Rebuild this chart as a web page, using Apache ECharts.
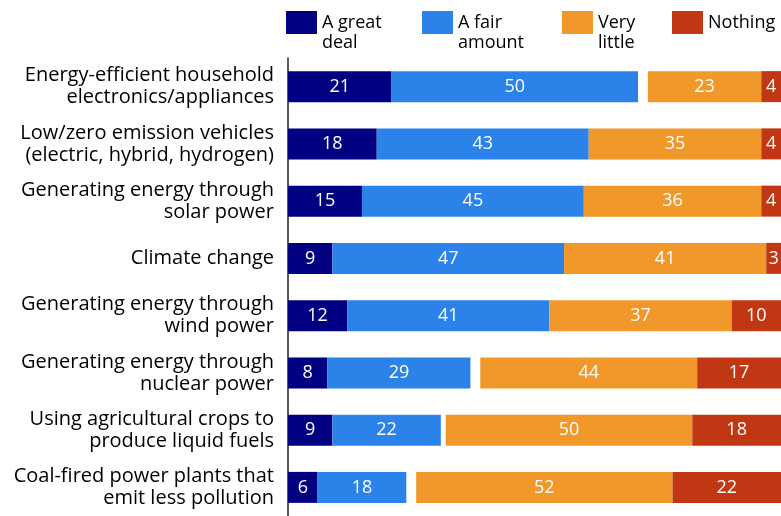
<!DOCTYPE html>
<html>
<head>
<meta charset="utf-8">
<script src="https://cdn.jsdelivr.net/npm/echarts@6/dist/echarts.min.js"></script>
<style>
  html, body { margin: 0; padding: 0; background: #fff; }
  #chart { width: 781px; height: 516px; }
</style>
</head>
<body>
<div id="chart"></div>
<script>
// Topics, top to bottom
const categories = [
  'Energy-efficient household\nelectronics/appliances',
  'Low/zero emission vehicles\n(electric, hybrid, hydrogen)',
  'Generating energy through\nsolar power',
  'Climate change',
  'Generating energy through\nwind power',
  'Generating energy through\nnuclear power',
  'Using agricultural crops to\nproduce liquid fuels',
  'Coal-fired power plants that\nemit less pollution'
];

// Share of respondents (%) for each answer
const greatDeal  = [21, 18, 15, 9, 12, 8, 9, 6];
const fairAmount = [50, 43, 45, 47, 41, 29, 22, 18];
const veryLittle = [23, 35, 36, 41, 37, 44, 50, 52];
const nothing    = [4, 4, 4, 3, 10, 17, 18, 22];

const seriesNames = ['A great deal', 'A fair amount', 'Very little', 'Nothing'];
// Legend captions; the leading blank line drops two-line captions so their
// first line sits level with the top half of the swatch.
const legendLines = ['\nA great\ndeal', '\nA fair\namount', '\nVery\nlittle', 'Nothing'];
const colors = ['#000080', '#2b83ea', '#f0992a', '#c13713'];

// Unanswered remainder sits between the two sides, so the "little/nothing"
// side stays flush with the right end of the scale.
const remainder = greatDeal.map((v, i) => 100 - v - fairAmount[i] - veryLittle[i] - nothing[i]);

const fontFamily = '"Open Sans", "Noto Sans", sans-serif';

const chart = echarts.init(document.getElementById('chart'), null, { renderer: 'canvas' });

function barSeries(name, data, color) {
  return {
    name: name,
    type: 'bar',
    stack: 'total',
    data: data,
    barWidth: 31,
    itemStyle: { color: color },
    label: {
      show: true,
      position: 'inside',
      color: '#fff',
      fontFamily: fontFamily,
      fontSize: 18
    },
    emphasis: { disabled: true }
  };
}

const legendLeft = [286, 422, 562, 672];
const legendTop = [-7.5, -7.5, -7.5, 11];

chart.setOption({
  animation: false,
  legend: seriesNames.map((name, i) => ({
    left: legendLeft[i],
    top: legendTop[i],
    padding: 0,
    icon: 'rect',
    itemWidth: 31,
    itemHeight: 23,
    selectedMode: false,
    data: [name],
    formatter: () => legendLines[i],
    textStyle: {
      color: '#000',
      fontFamily: fontFamily,
      fontSize: 18,
      lineHeight: 20
    }
  })),
  grid: { left: 288, top: 58, width: 494, height: 461, containLabel: false },
  xAxis: {
    type: 'value',
    min: 0,
    max: 100,
    show: false
  },
  yAxis: {
    type: 'category',
    data: categories,
    inverse: true,
    axisLine: { show: true, lineStyle: { color: '#222', width: 1.5 } },
    axisTick: { show: false },
    axisLabel: {
      color: '#000',
      fontFamily: fontFamily,
      fontSize: 20,
      lineHeight: 22,
      align: 'right',
      margin: 14
    }
  },
  series: [
    barSeries(seriesNames[0], greatDeal, colors[0]),
    barSeries(seriesNames[1], fairAmount, colors[1]),
    {
      name: 'remainder',
      type: 'bar',
      stack: 'total',
      data: remainder,
      barWidth: 31,
      itemStyle: { color: 'rgba(0,0,0,0)' },
      label: { show: false },
      emphasis: { disabled: true },
      silent: true
    },
    barSeries(seriesNames[2], veryLittle, colors[2]),
    barSeries(seriesNames[3], nothing, colors[3])
  ]
});
</script>
</body>
</html>
